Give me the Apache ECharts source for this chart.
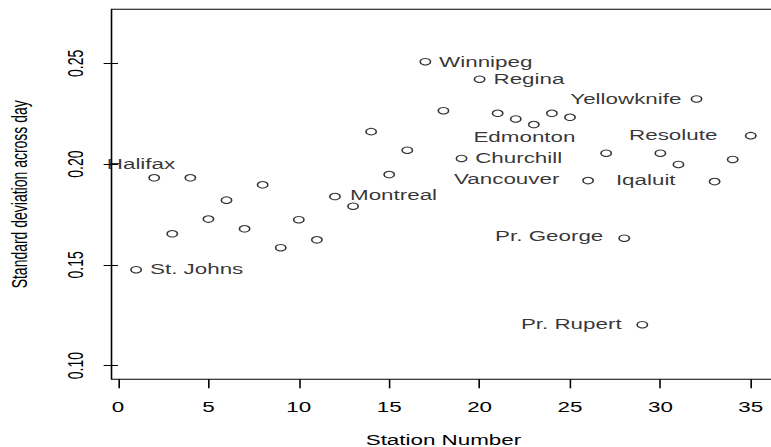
<!DOCTYPE html>
<html>
<head>
<meta charset="utf-8">
<script src="https://cdn.jsdelivr.net/npm/echarts@6/dist/echarts.min.js"></script>
<style>
html,body{margin:0;padding:0;background:#fff;overflow:hidden;}
#wrap{width:771px;height:447px;overflow:hidden;position:relative;background:#fff;}
#chart{width:481.875px;height:447px;transform:scaleX(1.6);transform-origin:0 0;}
</style>
</head>
<body>
<div id="wrap"><div id="chart"></div></div>
<script>
// ---- data ----
const stations = [1,2,3,4,5,6,7,8,9,10,11,12,13,14,15,16,17,18,19,20,21,22,23,24,25,26,27,28,29,30,31,32,33,34,35];
const sdValues = [0.1476,0.1932,0.1654,0.1932,0.1727,0.1821,0.1679,0.1897,0.1585,0.1724,
                  0.1624,0.1839,0.1791,0.2161,0.1948,0.2069,0.2508,0.2265,0.2028,0.2421,
                  0.2252,0.2224,0.2196,0.2252,0.2232,0.1918,0.2054,0.1632,0.1203,0.2054,
                  0.1998,0.2323,0.1913,0.2023,0.2141];
const labelNames = ["Halifax","St. Johns","Montreal","Winnipeg","Regina","Yellowknife","Edmonton",
                    "Resolute","Churchill","Vancouver","Iqaluit","Pr. George","Pr. Rupert"];
const labelX = [1.27,4.35,15.24,20.34,22.73,28.09,22.48,30.71,22.16,21.5,29.19,23.85,25.07];
const labelY = [0.1998,0.1481,0.1844,0.2508,0.2421,0.2323,0.2133,0.2145,0.2031,0.1923,0.1918,0.1641,0.1208];
const xTicks = [0,5,10,15,20,25,30,35];
const yTicks = [0.10,0.15,0.20,0.25];

const FONT = 'Liberation Sans, Arial, Helvetica, sans-serif';
const chart = echarts.init(document.getElementById('chart'), null, {renderer:'svg'});
chart.setOption({
  animation:false,
  tooltip:{show:false},
  textStyle:{fontFamily:FONT,color:'#000'},
  grid:{left:69.7, top:9.3, width:414.9, height:370, show:true, borderColor:'#000', borderWidth:1,
        backgroundColor:'transparent', containLabel:false, outerBoundsMode:'none'},
  xAxis:{
    type:'value', min:-0.36, max:36.36,
    name:'Station Number', nameLocation:'middle', nameGap:54, nameMoveOverlap:false,
    nameTextStyle:{fontSize:14,color:'#000',fontFamily:FONT},
    axisLine:{show:false}, splitLine:{show:false},
    axisTick:{show:true,length:9,customValues:xTicks,lineStyle:{color:'#000',width:1}},
    axisLabel:{customValues:xTicks,fontSize:14,color:'#000',margin:21,fontFamily:FONT,hideOverlap:false}
  },
  yAxis:{
    type:'value', min:0.0932, max:0.2768,
    name:'Standard deviation across day', nameLocation:'middle', nameGap:51, nameRotate:90, nameMoveOverlap:false,
    nameTextStyle:{fontSize:14,color:'#000',fontFamily:FONT},
    axisLine:{show:false}, splitLine:{show:false},
    axisTick:{show:true,length:9,customValues:yTicks,lineStyle:{color:'#000',width:1}},
    axisLabel:{customValues:yTicks,rotate:90,fontSize:14,color:'#000',margin:16,fontFamily:FONT,hideOverlap:false,
      formatter:function(v){return v.toFixed(2);}}
  },
  series:[
    {type:'scatter', data:stations.map((s,i)=>[s,sdValues[i]]), symbol:'circle', symbolSize:6.5,
     itemStyle:{color:'rgba(255,255,255,0)',borderColor:'#000',borderWidth:1}, emphasis:{disabled:true}, silent:true},
    {type:'scatter', data:labelNames.map((n,i)=>({name:n,value:[labelX[i],labelY[i]]})), symbolSize:1,
     itemStyle:{color:'rgba(0,0,0,0)'}, emphasis:{disabled:true}, silent:true, clip:false,
     label:{show:true,position:'inside',formatter:'{b}',color:'#000',fontSize:14,fontFamily:FONT}}
  ]
});
</script>
</body>
</html>
